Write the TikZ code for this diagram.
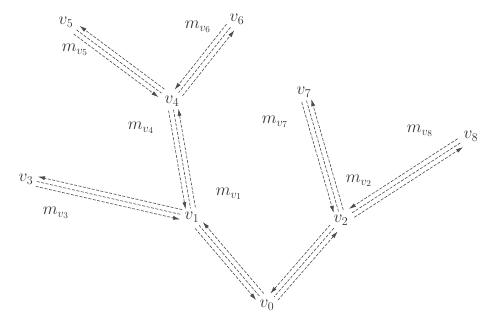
\documentclass[tikz,border=0pt]{standalone}
\usetikzlibrary{calc,arrows.meta}
\newcommand{\msgedge}[2]{%
  \path (#1) -- (#2) coordinate[pos=0] (s) coordinate[pos=1] (e);
  \draw[midline] (s) -- (e);
  \draw[msgline] ($(s)!5pt!-90:(e)$) -- ($(e)!5pt!90:(s)$);
  \draw[msgline] ($(e)!5pt!-90:(s)$) -- ($(s)!5pt!90:(e)$);
}
\tikzset{
  vert/.style={font=\fontsize{18}{21}\selectfont, inner sep=1.5pt, text=black!80},
  lab/.style={font=\fontsize{18}{21}\selectfont, inner sep=1pt, text=black!80},
  midline/.style={draw=black!70, line width=0.6pt, dash pattern=on 3pt off 1.5pt, shorten <=2pt, shorten >=2pt},
  msgline/.style={draw=black!70, line width=0.6pt, dash pattern=on 3pt off 1.5pt, shorten <=2pt, shorten >=2pt, -{Latex[length=7pt,width=4pt]}},
}
\begin{document}
\begin{tikzpicture}[x=1pt,y=-1pt]
\useasboundingbox (0,0) rectangle (483,322);
\node[vert] (v0) at (267,305) {$v_0$};
\node[vert] (v1) at (192,217) {$v_1$};
\node[vert] (v2) at (341,220) {$v_2$};
\node[vert] (v3) at (26,179) {$v_3$};
\node[vert] (v4) at (172,101) {$v_4$};
\node[vert] (v5) at (66,22) {$v_5$};
\node[vert] (v6) at (237,19) {$v_6$};
\node[vert] (v7) at (304,92) {$v_7$};
\node[vert] (v8) at (471,136) {$v_8$};
\node[lab] (m5) at (75,50) {$m_{v_5}$};
\node[lab] (m6) at (198,27) {$m_{v_6}$};
\node[lab] (m4) at (141,128) {$m_{v_4}$};
\node[lab] (m1) at (229,194) {$m_{v_1}$};
\node[lab] (m3) at (56,213) {$m_{v_3}$};
\node[lab] (m7) at (275,122) {$m_{v_7}$};
\node[lab] (m2) at (359,181) {$m_{v_2}$};
\node[lab] (m8) at (420,131) {$m_{v_8}$};
\msgedge{v5}{v4}
\msgedge{v6}{v4}
\msgedge{v4}{v1}
\msgedge{v3}{v1}
\msgedge{v1}{v0}
\msgedge{v2}{v0}
\msgedge{v7}{v2}
\msgedge{v8}{v2}
\end{tikzpicture}
\end{document}
